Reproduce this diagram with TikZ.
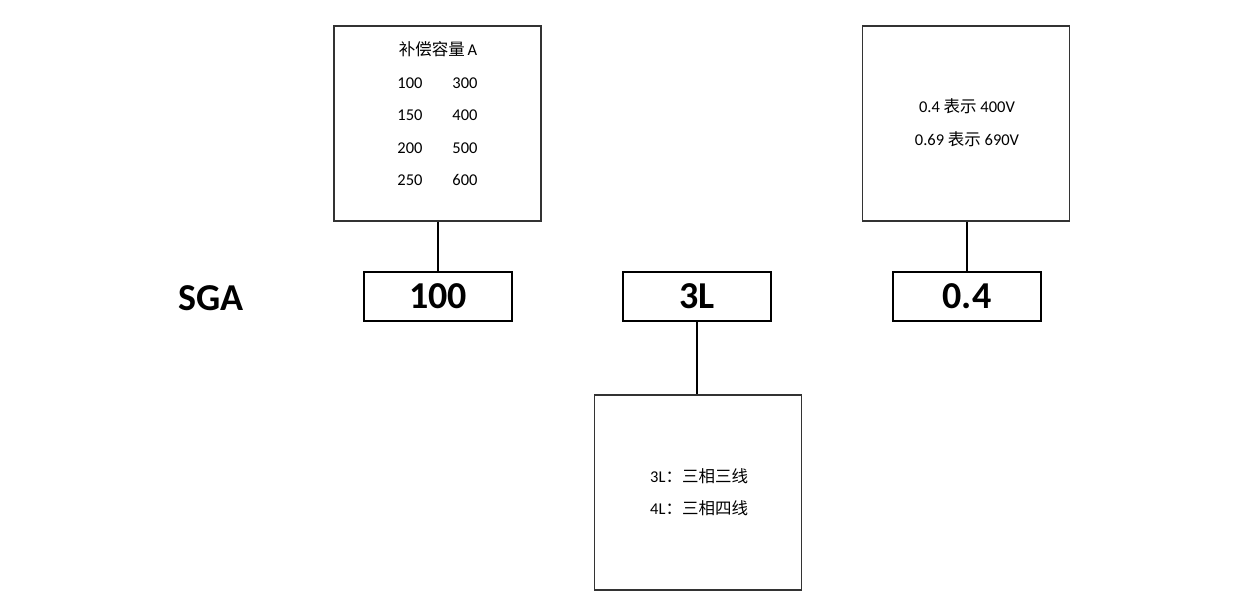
\documentclass[tikz,border=0pt]{standalone}
\usepackage{fontspec}
\setmainfont{Carlito}
\newfontfamily\cjk{Noto Sans CJK SC}
\begin{document}
\begin{tikzpicture}[x=1pt,y=-1pt,
  bigbox/.style={draw=black!80,line width=1.3pt,minimum width=207pt,minimum height=195pt,inner sep=0pt},
  codebox/.style={draw=black,line width=1.6pt,minimum width=148pt,minimum height=49pt,inner sep=0pt,font=\fontsize{38}{40}\selectfont\bfseries},
  small/.style={font=\fontsize{16.5}{18}\selectfont,inner sep=0pt,anchor=center,text height=11pt,text depth=0pt},
  link/.style={draw=black,line width=1.3pt}]
\useasboundingbox (0,0) rectangle (1240,605);
% upper left box
\node[bigbox] (boxA) at (437.5,123.5) {};
\node[small] (tA) at (438,50) {{\cjk 补偿容量}\,A};
\node[small] (a1) at (410,83) {100};
\node[small] (a2) at (465,83) {300};
\node[small] (a3) at (410,115) {150};
\node[small] (a4) at (465,115) {400};
\node[small] (a5) at (410,148) {200};
\node[small] (a6) at (465,148) {500};
\node[small] (a7) at (410,180) {250};
\node[small] (a8) at (465,180) {600};
% upper right box
\node[bigbox] (boxB) at (966,123.5) {};
\node[small] (b1) at (967,107) {0.4 {\cjk 表示} 400V};
\node[small] (b2) at (967,140) {0.69 {\cjk 表示} 690V};
% lower box
\node[bigbox] (boxC) at (698,492.5) {};
\node[small,anchor=west] (c1) at (650,477) {3L{\cjk ：三相三线}};
\node[small,anchor=west] (c2) at (650,509) {4L{\cjk ：三相四线}};
% code row
\node[font=\fontsize{38}{40}\selectfont\bfseries,inner sep=0pt] (sga) at (211,298) {SGA};
\node[codebox] (k1) at (438,296.5) {100};
\node[codebox] (k2) at (697,296.5) {3L};
\node[codebox] (k3) at (967,296.5) {0.4};
% connectors
\draw[link] (boxA.south -| k1.north) -- (k1.north);
\draw[link] (k2.south) -- (boxC.north -| k2.south);
\draw[link] (boxB.south -| k3.north) -- (k3.north);
\end{tikzpicture}
\end{document}
